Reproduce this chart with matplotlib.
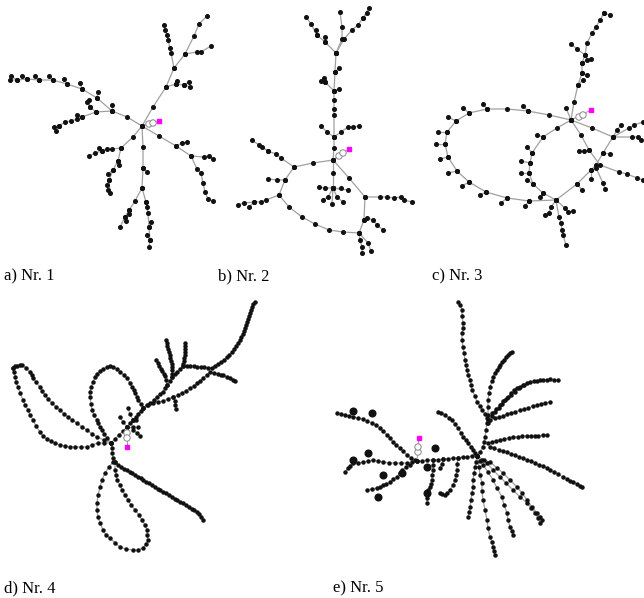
import matplotlib.pyplot as plt
from matplotlib.patches import Circle

# Network layouts (pixel coordinates of each node), one list of branches per panel.
# Each branch is a chain of nodes; consecutive nodes are joined by a line.

nr1_branches = [
    [(142, 126), (153, 107), (166, 87), (174, 68), (185, 54), (194, 36), (199, 24), (207, 16)],
    [(185, 54), (197, 52), (201, 52), (211, 46)],
    [(174, 68), (171, 53), (170, 48), (168, 40), (167, 35), (165, 30), (164, 25)],
    [(166, 87), (176, 84), (184, 85), (190, 87)],
    [(176, 84), (177, 81)], [(184, 85), (189, 82)],
    [(142, 126), (127, 117), (112, 111), (97, 98), (82, 89), (67, 84), (53, 80), (39, 80),
     (27, 79), (17, 80), (10, 80)],
    [(17, 80), (11, 76)], [(27, 79), (22, 76)], [(39, 80), (35, 76)], [(53, 80), (49, 76)],
    [(67, 84), (64, 79)], [(82, 89), (80, 83)], [(97, 98), (98, 92)], [(112, 111), (112, 105)],
    [(112, 111), (96, 112), (82, 117), (77, 119), (71, 121), (65, 122), (59, 126), (56, 131)],
    [(59, 126), (54, 127)], [(96, 112), (90, 107), (87, 102)], [(90, 107), (89, 100)],
    [(82, 117), (77, 115)],
    [(142, 126), (133, 137), (121, 148), (118, 161), (113, 170), (109, 180), (110, 193)],
    [(121, 148), (112, 149), (107, 149), (102, 151), (95, 153), (89, 156)], [(102, 151), (99, 148)],
    [(118, 161), (119, 165)], [(113, 170), (108, 174)], [(109, 180), (107, 185), (108, 190)],
    [(142, 126), (143, 147), (143, 168), (142, 188), (135, 201), (129, 210), (125, 217), (120, 227)],
    [(142, 188), (146, 202), (148, 213), (149, 227), (150, 240), (149, 247)],
    [(143, 168), (147, 172)], [(129, 210), (129, 214)], [(125, 217), (126, 221)],
    [(146, 202), (147, 207)], [(149, 227), (151, 222)], [(150, 240), (147, 235)],
    [(142, 126), (159, 136), (176, 146), (191, 156), (197, 169), (201, 173), (203, 183),
     (205, 192), (208, 199), (213, 201)],
    [(191, 156), (204, 157), (209, 156), (213, 159)], [(176, 146), (182, 143), (187, 142)],
]

nr2_branches = [
    [(333, 160), (334, 148), (334, 137), (334, 115), (334, 109), (334, 100), (334, 91), (335, 72), (336, 53)],
    [(336, 53), (325, 42), (317, 35), (311, 24), (306, 17)], [(317, 35), (316, 30)], [(325, 42), (325, 37)],
    [(336, 53), (342, 39), (342, 27), (340, 12)],
    [(336, 53), (344, 39), (352, 30), (358, 25), (363, 18), (369, 8)], [(363, 18), (367, 13)],
    [(334, 137), (327, 132), (321, 126)],
    [(334, 137), (341, 132), (348, 127), (353, 127), (359, 126)],
    [(334, 91), (325, 82), (321, 81)], [(325, 82), (324, 78)], [(334, 91), (339, 89)], [(335, 72), (339, 68)],
    [(333, 160), (313, 163), (294, 167), (285, 180), (279, 195), (289, 207), (302, 217), (315, 224),
     (329, 230), (343, 232), (359, 233), (364, 220), (365, 197), (349, 178), (333, 160)],
    [(294, 167), (281, 158), (276, 154), (268, 151), (259, 145), (252, 140)], [(268, 151), (262, 147)],
    [(285, 180), (277, 180), (268, 179)],
    [(279, 195), (266, 200), (261, 202), (254, 202), (244, 203), (238, 205)], [(254, 202), (249, 207)],
    [(365, 197), (380, 197), (387, 197), (394, 198), (401, 197), (404, 200), (412, 202)],
    [(364, 220), (367, 218), (373, 220), (377, 225), (383, 230)],
    [(359, 233), (360, 240), (362, 247), (362, 253)], [(359, 233), (368, 243), (371, 251)],
    [(333, 160), (333, 173), (333, 188)],
    [(333, 188), (325, 188), (319, 187)], [(333, 188), (341, 188)], [(333, 188), (348, 190)],
    [(333, 188), (328, 197), (323, 200)], [(333, 188), (332, 204)],
    [(333, 188), (337, 197), (343, 202)],
]

nr3_branches = [
    [(571, 120), (574, 102), (578, 85), (582, 73), (582, 63), (585, 55), (587, 43), (592, 33),
     (596, 27), (600, 20), (604, 13)],
    [(604, 13), (610, 15)], [(585, 55), (577, 49), (571, 44)], [(582, 63), (587, 60), (591, 59)],
    [(578, 85), (583, 80)], [(582, 73), (587, 75)],
    [(571, 120), (549, 115), (528, 111), (507, 109), (487, 109), (469, 113), (456, 121), (447, 132),
     (445, 144), (448, 157), (457, 171), (469, 182), (486, 192), (507, 198), (529, 201), (556, 200)],
    [(528, 111), (523, 106)], [(487, 109), (483, 104)], [(469, 113), (463, 108)], [(456, 121), (448, 117)],
    [(447, 132), (438, 132)], [(445, 144), (436, 144)], [(448, 157), (440, 159)], [(457, 171), (448, 173)],
    [(469, 182), (462, 186)], [(486, 192), (480, 195)], [(507, 198), (501, 203)], [(529, 201), (525, 206)],
    [(571, 120), (566, 108)],
    [(571, 120), (557, 128), (543, 137), (532, 153), (530, 163), (529, 173), (533, 184), (543, 193), (556, 200)],
    [(543, 137), (537, 135)], [(532, 153), (527, 147)], [(530, 163), (521, 161)], [(529, 173), (521, 173)],
    [(533, 184), (527, 180)], [(543, 193), (540, 197)],
    [(556, 200), (577, 184), (591, 170), (596, 165), (603, 153), (613, 137), (592, 128), (571, 120)],
    [(571, 120), (581, 135), (589, 150), (600, 165), (619, 172), (627, 174), (637, 178), (643, 180)],
    [(589, 150), (584, 151), (579, 151)], [(603, 153), (610, 154)], [(591, 170), (591, 179)],
    [(596, 168), (603, 183), (605, 189)], [(577, 184), (582, 190)],
    [(613, 137), (617, 130), (621, 125)], [(613, 137), (629, 128), (634, 125), (643, 122)],
    [(613, 137), (632, 137), (638, 137), (641, 140)],
    [(556, 200), (551, 207), (549, 213), (545, 215)],
    [(556, 200), (559, 217), (561, 223), (562, 230), (563, 235), (566, 245)],
    [(556, 200), (565, 208), (568, 212), (573, 211)],
]

nr4_branches = [
    [(111, 443), (115, 439), (119, 435), (123, 431), (127, 427), (130, 423), (133, 420), (136, 417),
     (138, 414), (141, 411), (143, 408), (147, 405), (150, 403), (154, 400), (157, 397), (160, 394),
     (163, 392), (165, 388), (167, 385), (170, 381), (172, 377), (175, 374), (177, 372), (180, 369),
     (183, 366), (187, 366), (190, 366), (194, 366), (197, 367), (201, 367), (204, 367), (208, 368),
     (212, 368), (215, 366), (218, 364), (221, 362), (224, 360), (227, 357), (229, 355), (232, 352),
     (234, 349), (236, 346), (238, 343), (240, 340), (241, 337), (243, 334), (244, 331), (245, 328),
     (246, 325), (247, 322), (248, 319), (249, 316), (250, 313), (251, 310), (252, 307), (253, 304),
     (255, 302)],
    [(143, 408), (148, 405), (153, 403), (158, 402), (163, 401), (168, 399), (173, 397), (178, 395),
     (182, 393), (186, 391), (190, 388), (194, 386), (197, 383), (200, 381), (203, 378), (207, 375),
     (210, 372), (214, 373), (218, 374), (221, 375), (223, 375), (227, 377), (230, 378), (233, 380),
     (235, 381)],
    [(166, 340), (167, 343), (167, 346), (168, 349), (169, 352), (170, 355), (170, 358), (171, 361),
     (172, 364), (172, 367), (172, 370), (172, 374), (172, 377)],
    [(185, 343), (185, 346), (185, 349), (185, 352), (185, 355), (184, 358), (184, 361), (183, 364),
     (183, 366)],
    [(156, 360), (158, 363), (159, 366), (161, 369), (162, 371), (164, 374), (165, 376), (166, 380),
     (167, 385)],
    [(173, 397), (175, 401), (175, 405), (176, 409)],
    [(13, 368), (14, 372), (15, 377), (16, 382), (18, 387), (20, 393), (23, 400), (25, 405), (28, 410),
     (30, 415), (33, 420), (36, 426), (40, 432), (43, 436), (47, 439), (51, 441), (55, 443), (60, 445),
     (65, 446), (70, 447), (75, 447), (81, 447), (87, 447), (92, 445), (98, 443), (104, 443), (111, 443)],
    [(13, 368), (15, 366), (17, 366), (20, 365), (22, 365), (26, 368), (30, 372), (32, 375), (33, 378),
     (36, 382), (40, 387), (42, 391), (45, 395), (48, 399), (52, 403), (56, 407), (60, 410), (64, 414),
     (68, 417), (72, 420), (77, 423), (82, 427), (87, 430), (92, 434), (97, 437), (104, 440), (111, 443)],
    [(111, 443), (107, 438), (104, 434), (102, 430), (100, 427), (98, 423), (97, 420), (94, 415),
     (92, 410), (91, 404), (90, 397), (90, 392), (91, 387), (93, 382), (95, 377), (97, 374), (100, 371),
     (103, 369), (107, 367), (110, 366), (113, 367), (117, 369), (120, 372), (124, 375), (127, 378),
     (130, 383), (132, 387), (134, 390), (135, 393), (137, 397), (138, 400), (141, 404), (143, 408)],
    [(111, 443), (112, 448), (112, 453), (113, 458), (113, 462), (109, 467), (105, 473), (102, 480),
     (100, 487), (98, 495), (97, 503), (97, 510), (98, 517), (100, 523), (103, 530), (106, 535),
     (110, 538), (115, 543), (120, 547), (126, 549), (133, 550), (138, 550), (143, 548), (146, 544),
     (148, 540), (147, 535), (147, 530), (145, 525), (142, 520), (139, 515), (135, 510), (131, 505),
     (128, 500), (125, 495), (122, 490), (120, 485), (117, 480), (116, 475), (115, 470), (115, 462)],
    [(115, 462), (118, 465), (121, 467), (124, 469), (127, 470), (130, 472), (132, 473), (135, 475),
     (138, 477), (141, 478), (143, 480), (146, 482), (149, 483), (152, 485), (155, 487), (158, 489),
     (160, 490), (163, 492), (166, 493), (169, 495), (172, 497), (175, 499), (177, 500), (180, 502),
     (183, 503), (186, 505), (189, 507), (192, 509), (194, 510), (197, 512), (199, 514), (201, 517),
     (203, 520)],
    [(127, 427), (123, 422), (120, 417)], [(133, 420), (130, 414), (128, 408)], [(133, 420), (136, 420)],
    [(127, 427), (133, 427), (138, 427)], [(133, 430), (137, 433), (140, 436)],
]

nr5_branches = [
    [(417, 461), (422, 461), (427, 460), (433, 460), (438, 460), (443, 459), (448, 459), (453, 458),
     (458, 458), (463, 457), (467, 457), (472, 456), (477, 456)],
    [(417, 461), (412, 462), (407, 463), (401, 463), (395, 463), (389, 463), (383, 462), (378, 461),
     (373, 460), (368, 461), (363, 462), (358, 463), (353, 463), (350, 466), (348, 468), (345, 472)],
    [(417, 461), (415, 460), (411, 458), (407, 455), (403, 451), (400, 448), (396, 445), (393, 442),
     (390, 438), (387, 435), (383, 431), (380, 428), (376, 425), (372, 423), (367, 421), (363, 419),
     (358, 418), (353, 417), (349, 416), (345, 415), (341, 414), (337, 413)],
    [(410, 465), (406, 467), (402, 470), (400, 473), (397, 477), (393, 479), (390, 482), (386, 484),
     (383, 485), (380, 487), (377, 488), (372, 489), (367, 490)],
    [(433, 460), (433, 465), (433, 470), (432, 475), (432, 480), (431, 484), (430, 487), (428, 490),
     (427, 493), (427, 498), (427, 503)],
    [(458, 458), (457, 464), (457, 470), (456, 475), (455, 480), (453, 485), (450, 490), (447, 493),
     (445, 495), (442, 494), (440, 493)],
    [(443, 459), (442, 464), (440, 468)],
    [(477, 456), (480, 452), (483, 447), (484, 442), (485, 437), (486, 430), (487, 423), (487, 418),
     (485, 414), (482, 410), (480, 406), (477, 402), (475, 396), (472, 390), (471, 385), (470, 380),
     (468, 375), (467, 370), (466, 365), (465, 360), (464, 353), (463, 347), (462, 340), (462, 333),
     (463, 328), (463, 323), (462, 316), (462, 310), (460, 305), (458, 302)],
    [(488, 423), (488, 415), (488, 407), (488, 400), (489, 393), (490, 387), (492, 381), (493, 377),
     (495, 373), (497, 370), (499, 367), (500, 365), (502, 362), (504, 360), (506, 357), (508, 355),
     (510, 353), (512, 352)],
    [(488, 420), (492, 416), (495, 412), (499, 408), (502, 404), (505, 400), (508, 397), (511, 393),
     (514, 390), (517, 388), (520, 387), (524, 385), (527, 383), (530, 382), (534, 381), (537, 381),
     (540, 380), (543, 380), (547, 380), (550, 379), (554, 380), (558, 380)],
    [(492, 413), (496, 409), (500, 405), (503, 401), (507, 398), (511, 395), (515, 392), (519, 388),
     (523, 385)],
    [(490, 420), (495, 418), (499, 417), (503, 416), (507, 414), (511, 413), (515, 412), (520, 410),
     (524, 409), (528, 408), (533, 406), (537, 405), (541, 404), (545, 403), (550, 402)],
    [(488, 443), (492, 442), (496, 441), (500, 440), (504, 439), (509, 438), (513, 437), (518, 437),
     (522, 436), (527, 436), (531, 436), (535, 436), (538, 436), (543, 435), (547, 435)],
    [(490, 447), (494, 448), (499, 450), (503, 451), (507, 452), (511, 454), (515, 455), (519, 457),
     (523, 458), (527, 460), (531, 461), (535, 463), (539, 465), (543, 466), (547, 468), (550, 470),
     (554, 472), (558, 474), (563, 477), (567, 479), (570, 481), (573, 482), (577, 484), (580, 486),
     (582, 487)],
    [(477, 456), (476, 462), (475, 467), (474, 473), (473, 480), (473, 487), (472, 493), (471, 500),
     (470, 507), (469, 512), (468, 517)],
    [(477, 456), (479, 467), (480, 475), (482, 483), (482, 491), (483, 500), (485, 510), (487, 520),
     (488, 528), (490, 537), (492, 542), (493, 547), (494, 551), (495, 555)],
    [(477, 456), (480, 461), (483, 465), (488, 472), (493, 480), (497, 488), (502, 497), (504, 505),
     (507, 513), (508, 520), (510, 527), (512, 531), (513, 535)],
    [(477, 456), (482, 460), (487, 463), (493, 470), (500, 477), (506, 483), (513, 490), (520, 497),
     (527, 503), (531, 508), (535, 513), (538, 518), (540, 523)],
    [(477, 456), (484, 460), (490, 462), (497, 468), (503, 473), (510, 480), (517, 487), (522, 493),
     (527, 500), (532, 507), (537, 513), (540, 517), (542, 520)],
    [(438, 412), (441, 413), (445, 415), (449, 418), (452, 420), (455, 424), (458, 428), (461, 433),
     (463, 437), (466, 440), (468, 443), (471, 447), (473, 450), (475, 453), (477, 456)],
]
# dense clusters of nodes in Nr. 5
nr5_clusters = [(353, 411), (372, 413), (368, 453), (353, 460), (383, 475), (402, 473),
                (378, 497), (435, 448), (427, 467), (427, 493)]

# (hub, transformer circle 1, transformer circle 2, feeder point)
transformers = [
    ((142, 126), (149, 124), (153, 123), (159, 121)),
    ((333, 160), (339, 156), (343, 153), (349, 149)),
    ((571, 120), (579, 117), (583, 115), (591, 110)),
    ((127, 427), (127, 433), (127, 438), (127, 447)),
    ((417, 461), (418, 452), (418, 447), (419, 438)),
]

labels = ["a) Nr. 1", "b) Nr. 2", "c) Nr. 3", "d) Nr. 4", "e) Nr. 5"]
label_pos = [(4, 276), (218, 276), (432, 276), (4, 588), (333, 588)]

fig = plt.figure(figsize=(6.44, 5.98), dpi=100)
ax = fig.add_axes([0, 0, 1, 1])
ax.set_xlim(0, 644)
ax.set_ylim(598, 0)
ax.axis("off")

panels = [nr1_branches, nr2_branches, nr3_branches, nr4_branches, nr5_branches]
dot_size = [2.6, 2.6, 2.6, 2.2, 2.2]
for branches, ms in zip(panels, dot_size):
    for br in branches:
        xs = [p[0] for p in br]
        ys = [p[1] for p in br]
        ax.plot(xs, ys, color="#a0a0a0", lw=0.9, zorder=1)
        ax.plot(xs, ys, "o", ms=ms, color="#111111", mec="#111111", zorder=2)

cx = [p[0] for p in nr5_clusters]
cy = [p[1] for p in nr5_clusters]
ax.plot(cx, cy, "o", ms=4.8, color="#111111", zorder=2)

for hub, c1, c2, feed in transformers:
    ax.plot([hub[0], feed[0]], [hub[1], feed[1]], color="#999999", lw=0.7, zorder=1)
    for c in (c1, c2):
        ax.add_patch(Circle(c, 3.2, fc="white", ec="#888888", lw=0.7, zorder=3))
    ax.plot(feed[0], feed[1], "s", ms=2.2, color="#ff00ff", zorder=4)

for txt, (x, y) in zip(labels, label_pos):
    ax.text(x, y, txt, fontsize=12, family="Liberation Serif", ha="left", va="center")

fig.savefig("out.png", dpi=100)
